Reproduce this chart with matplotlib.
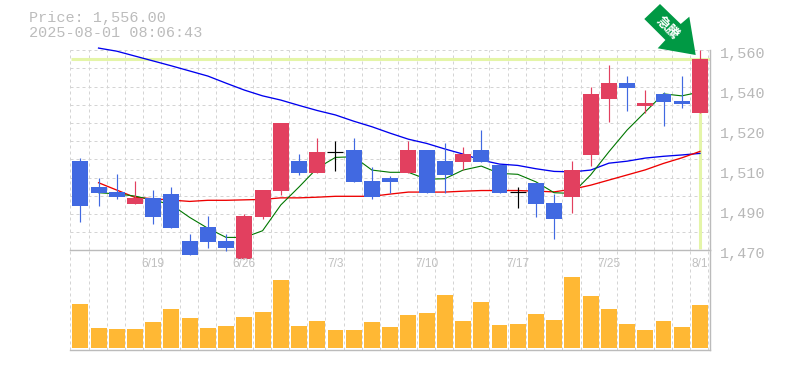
import matplotlib
matplotlib.use('Agg')
import matplotlib.pyplot as plt
from matplotlib.patches import Polygon
from matplotlib.transforms import IdentityTransform

## price panel, 35 daily candles
body_top = [1510.2, 1498.5, 1496.2, 1493.5, 1493.5, 1495.3, 1474.2, 1480.5, 1474.2, 1485.4,
            1497.1, 1527.3, 1510.2, 1514.2, 1514.1, 1515.1, 1501.2, 1502.5, 1515.1, 1515.1,
            1510.2, 1513.3, 1515.1, 1508.4, 1496.2, 1500.3, 1491.3, 1506.1, 1540.3, 1545.3,
            1545.3, 1536.3, 1540.3, 1537.2, 1556.0]
body_bot = [1489.9, 1495.8, 1494.0, 1490.8, 1485.0, 1480.0, 1467.9, 1473.7, 1471.0, 1466.1,
            1485.0, 1496.7, 1504.8, 1504.8, 1514.1, 1500.7, 1494.0, 1500.7, 1504.8, 1495.8,
            1503.9, 1509.7, 1509.7, 1495.8, 1496.2, 1490.8, 1484.1, 1494.0, 1512.9, 1538.1,
            1543.0, 1534.9, 1536.7, 1535.8, 1531.9]
highs = [1511.5, 1502.5, 1504.3, 1501.2, 1497.1, 1498.5, 1477.3, 1485.4, 1477.3, 1486.3,
         1497.1, 1527.3, 1513.3, 1520.5, 1519.2, 1520.5, 1507.5, 1503.4, 1519.2, 1515.1,
         1518.3, 1516.5, 1524.1, 1508.4, 1498.5, 1500.3, 1495.3, 1510.2, 1543.5, 1553.4,
         1548.4, 1542.1, 1541.2, 1548.4, 1560.1]
lows = [1482.7, 1489.9, 1493.1, 1490.8, 1481.8, 1480.0, 1467.9, 1471.0, 1469.7, 1466.1,
        1484.1, 1494.9, 1503.9, 1504.8, 1505.7, 1500.7, 1493.1, 1495.8, 1504.8, 1495.8,
        1495.8, 1506.1, 1509.7, 1495.8, 1489.0, 1485.0, 1475.1, 1486.8, 1507.9, 1527.7,
        1532.7, 1531.8, 1525.9, 1534.0, 1531.9]
# 0 = down, 1 = up, 2 = no change
kinds = [0, 0, 0, 1, 0, 0, 0, 0, 0, 1,
         1, 1, 0, 1, 2, 0, 0, 0, 1, 0,
         0, 1, 0, 0, 2, 0, 0, 1, 1, 1,
         0, 1, 0, 0, 1]

# moving averages start on the second candle
ma_short = [1495.9, 1495.4, 1494.4, 1492.6, 1490.5, 1484.8, 1479.9, 1475.8, 1475.8, 1478.8,
            1490.4, 1498.5, 1507.0, 1511.8, 1512.1, 1506.1, 1505.1, 1505.1, 1502.0,
            1502.2, 1506.1, 1507.9, 1504.6, 1504.2, 1500.8, 1495.9, 1495.6, 1503.9, 1514.3,
            1524.1, 1532.3, 1540.4, 1539.5, 1541.2]
ma_mid = [1500.4, 1497.1, 1493.8, 1493.2, 1492.6, 1492.0, 1492.5, 1492.5, 1492.7, 1492.9,
          1493.6, 1493.6, 1493.9, 1494.3, 1494.3, 1494.3, 1495.3, 1496.2, 1496.2, 1496.2,
          1496.6, 1496.9, 1496.9, 1496.9, 1496.6, 1496.3, 1497.5, 1499.3, 1501.6, 1503.9,
          1506.2, 1509.1, 1511.6, 1514.5]
ma_long = [1561.0, 1559.6, 1557.4, 1555.2, 1553.0, 1550.7, 1548.4, 1545.2, 1542.1, 1539.5,
           1537.6, 1535.2, 1532.9, 1530.9, 1528.1, 1525.6, 1522.7, 1520.0, 1518.1, 1515.6,
           1513.3, 1510.6, 1508.8, 1508.2, 1506.7, 1505.5, 1505.3, 1506.1, 1509.2, 1510.1,
           1511.5, 1512.3, 1512.9, 1513.6]

volumes = [44, 20, 19, 19, 26, 39, 30, 20, 22, 31, 36, 68, 22, 27, 18, 18, 26, 21,
           33, 35, 53, 27, 46, 23, 24, 34, 28, 71, 52, 39, 24, 18, 27, 21, 43]

date_idx = [4, 9, 14, 19, 24, 29, 34]
date_labels = ['6/19', '6/26', '7/3', '7/10', '7/17', '7/25', '8/1']
price_labels = ['1,560', '1,540', '1,520', '1,510', '1,490', '1,470']
price_ticks = [1560, 1542, 1524, 1506, 1488, 1470]

current_price = 1556.0
title_lines = ['Price: 1,556.00', '2025-08-01 08:06:43']
arrow_text = '急騰'

RED = '#e2405f'
BLUE = '#4169e1'
GRID = '#d4d4d4'
AXIS = '#bbbbbb'
HILITE = '#e4f5a8'
W, H = 785, 370
LEFT, RIGHT, MID, TOP, BOTTOM = 70.3, 710.0, 250.3, 50.3, 350.0

fig = plt.figure(figsize=(W / 100, H / 100), dpi=100)
vol = fig.add_axes([LEFT / W, 1 - BOTTOM / H, (RIGHT - LEFT) / W, (BOTTOM - MID) / H])
ax = fig.add_axes([LEFT / W, 1 - MID / H, (RIGHT - LEFT) / W, (MID - TOP) / H])

n = len(kinds)
for a in (ax, vol):
    a.patch.set_visible(False)
    a.set_xlim(-0.532, 34.55)
    a.set_xticks([i - 0.55 for i in range(n + 1)])
    a.grid(True, axis='x', color=GRID, lw=0.72, ls=(0, (3, 3)))
    a.set_axisbelow(True)
    a.tick_params(length=0, labelbottom=False, labelleft=False)
    for s in a.spines.values():
        s.set_visible(False)
    a.spines['bottom'].set_visible(True)
    a.spines['bottom'].set_color(AXIS)
    a.spines['bottom'].set_linewidth(1)
    a.spines['right'].set_visible(True)
    a.spines['right'].set_color(AXIS)
    a.spines['right'].set_linewidth(1)

ax.set_ylim(1470, 1560)
ax.set_yticks([1560 - 90 * k / 11 for k in range(12)])
ax.grid(True, axis='y', color=GRID, lw=0.72, ls=(0, (3, 3)))

# highlight of the latest price
ax.plot([-0.532, 34.55], [current_price, current_price], color=HILITE, lw=2.2, zorder=1.5,
        solid_capstyle='butt')
ax.plot([n - 1, n - 1], [1470.5, current_price], color=HILITE, lw=2.2, zorder=1.5,
        solid_capstyle='butt')

ax.plot(range(1, n), ma_long, color='#0000ee', lw=0.95, zorder=2, clip_on=False)
ax.plot(range(1, n), ma_mid, color='#ee0000', lw=0.95, zorder=2)
ax.plot(range(1, n), ma_short, color='#007700', lw=0.8, zorder=2)

for i in range(n):
    c = {0: BLUE, 1: RED, 2: 'black'}[kinds[i]]
    ax.plot([i, i], [lows[i], highs[i]], color=c, lw=0.85, zorder=3, clip_on=False,
            solid_capstyle='butt')
    if kinds[i] == 2:
        ax.plot([i - 0.44, i + 0.44], [body_top[i], body_top[i]], color=c, lw=0.85, zorder=3,
                solid_capstyle='butt')
    else:
        ax.bar(i, body_top[i] - body_bot[i], bottom=body_bot[i], width=0.875, color=c,
               zorder=3, clip_on=False)

vol.set_ylim(-2, 97.7)
vol.bar(range(n), volumes, width=0.875, color='#ffb834', zorder=3)

for i, s in zip(date_idx, date_labels):
    ax.text(i, 1470 - 13.2 * 0.45, s, ha='center', va='center', color='#c0c0c0',
            family='Liberation Sans', fontsize=8.6)

for p, s in zip(price_ticks, price_labels):
    ax.annotate(s, xy=(1, p), xycoords=ax.get_yaxis_transform(), xytext=(7, -2.4),
                textcoords='offset points', ha='left', va='center', color='#b8b8b8',
                family='Liberation Mono', fontsize=10.9, annotation_clip=False)

fig.text(29 / W, 1 - 18 / H, title_lines[0], color='#bcbcbc', family='Liberation Mono',
         fontsize=10.9, va='center', ha='left')
fig.text(29 / W, 1 - 33 / H, title_lines[1], color='#bcbcbc', family='Liberation Mono',
         fontsize=10.9, va='center', ha='left')

# arrow pointing at the last candle
arrow_px = [(660, 4), (680.7, 24), (689.3, 16.7), (695.7, 55), (657.7, 48.3), (665.4, 40), (644.3, 19)]
fig.add_artist(Polygon([(x, H - y) for x, y in arrow_px], closed=True, color='#009944',
                       lw=0, transform=IdentityTransform(), zorder=5))
fig.text(667 / W, 1 - 27.5 / H, arrow_text, color='white', rotation=-45, ha='center', va='center',
         family=['Noto Sans CJK JP', 'DejaVu Sans'], fontsize=9.5, fontweight='bold', zorder=6,
         rotation_mode='anchor')

fig.savefig('out.png', dpi=100)
